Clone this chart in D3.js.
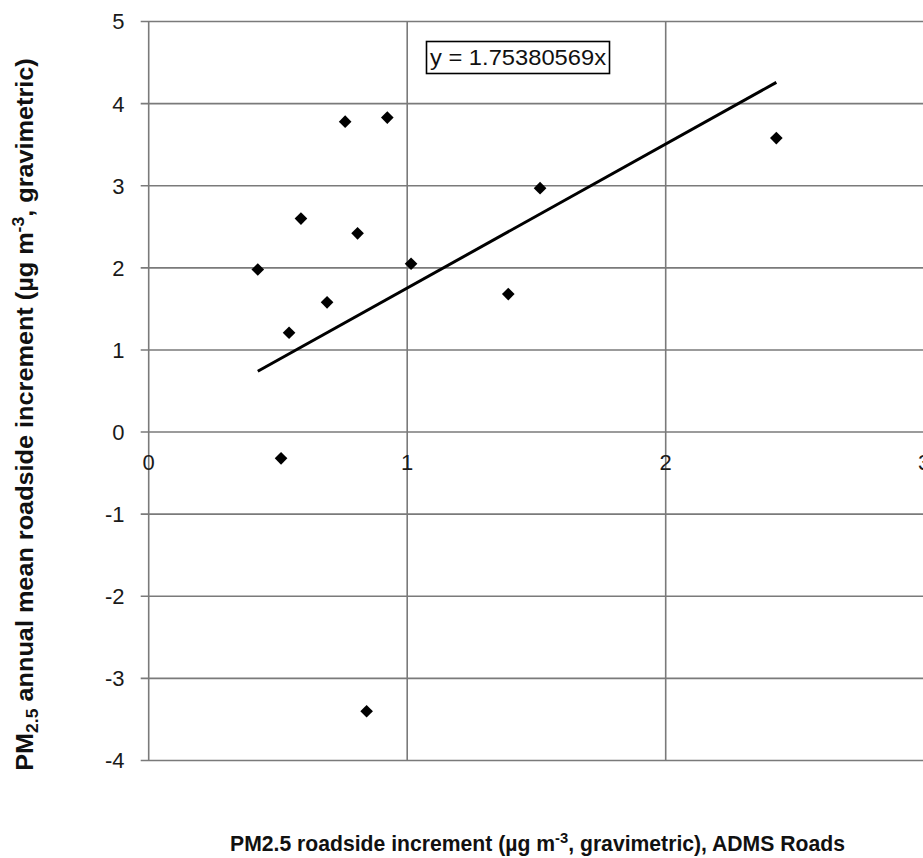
<!DOCTYPE html>
<html><head><meta charset="utf-8">
<script src="https://cdn.jsdelivr.net/npm/d3@7"></script>
<style>body{margin:0;background:#fff;} svg{display:block;}</style>
</head><body>
<svg id="c" width="923" height="858"></svg>
<script>
const xValues = [0.422, 0.543, 0.512, 0.589, 0.690, 0.760, 0.808, 0.843, 0.923, 1.015, 1.391, 1.514, 2.428];
const yValues = [1.98, 1.21, -0.32, 2.60, 1.58, 3.78, 2.42, -3.40, 3.83, 2.05, 1.68, 2.97, 3.58];
const slope = 1.75380569;
const xTicks = [0, 1, 2, 3];
const yTicks = [5, 4, 3, 2, 1, 0, -1, -2, -3, -4];
const eqLabel = "y = 1.75380569x";

(function(){
const svg = d3.select("#c");
const pLeft = 148.7, pTop = 21.5, pRight = 924.2, pBottom = 760.5;
const x = d3.scaleLinear().domain([0, 3]).range([pLeft, pRight]);
const y = d3.scaleLinear().domain([-4, 5]).range([pBottom, pTop]);
const grid = "#7a7a7a";
const font = "Liberation Sans, Arial, sans-serif";

svg.append("g").selectAll("line").data(yTicks).join("line")
  .attr("x1", pLeft - 8).attr("x2", 923)
  .attr("y1", d => y(d)).attr("y2", d => y(d))
  .attr("stroke", grid).attr("stroke-width", 1.6);
svg.append("g").selectAll("line").data(xTicks).join("line")
  .attr("x1", d => x(d)).attr("x2", d => x(d))
  .attr("y1", pTop).attr("y2", pBottom)
  .attr("stroke", grid).attr("stroke-width", 1.6);

svg.append("g").selectAll("text").data(yTicks).join("text")
  .attr("x", 124.5).attr("y", d => y(d)).attr("dy", "0.36em")
  .attr("text-anchor", "end").attr("font-family", font).attr("font-size", 22)
  .attr("fill", "#1a1a1a").text(d => d);
svg.append("g").selectAll("text").data(xTicks).join("text")
  .attr("x", d => x(d)).attr("y", y(0) + 30).attr("dy", "0.36em")
  .attr("text-anchor", "middle").attr("font-family", font).attr("font-size", 22)
  .attr("fill", "#1a1a1a").text(d => d);

const xmin = d3.min(xValues), xmax = d3.max(xValues);
svg.append("line")
  .attr("x1", x(xmin)).attr("y1", y(slope * xmin))
  .attr("x2", x(xmax)).attr("y2", y(slope * xmax))
  .attr("stroke", "#000").attr("stroke-width", 3);

const pts = xValues.map((v, i) => [v, yValues[i]]);
svg.append("g").selectAll("path").data(pts).join("path")
  .attr("d", d3.symbol().type(d3.symbolSquare).size(80))
  .attr("transform", d => `translate(${x(d[0])},${y(d[1])}) rotate(45)`)
  .attr("fill", "#000");

svg.append("rect").attr("x", 426.5).attr("y", 41.5).attr("width", 183).attr("height", 32)
  .attr("fill", "#fff").attr("stroke", "#000").attr("stroke-width", 1.6);
svg.append("text").attr("x", 518).attr("y", 57.5).attr("dy", "0.36em").attr("text-anchor", "middle")
  .attr("font-family", font).attr("font-size", 22).attr("fill", "#111")
  .attr("textLength", 176).attr("lengthAdjust", "spacingAndGlyphs").text(eqLabel);

function fit(sel, target) {
  const w = sel.node().getBBox().width;
  return target / w;
}

const yt = svg.append("text")
  .attr("text-anchor", "middle").attr("font-family", font).attr("font-size", 23)
  .attr("font-weight", "bold").attr("fill", "#111");
yt.append("tspan").text("PM");
yt.append("tspan").attr("font-size", 16).attr("dy", 5).text("2.5");
yt.append("tspan").attr("dy", -5).text(" annual mean  roadside increment (µg m");
yt.append("tspan").attr("font-size", 16).attr("dy", -9).text("-3");
yt.append("tspan").attr("dy", 9).text(",  gravimetric)");
const sy = fit(yt, 713);
yt.attr("transform", `translate(32.5,414.5) rotate(-90) scale(${sy},1)`);

const xt = svg.append("text")
  .attr("text-anchor", "middle").attr("font-family", font).attr("font-size", 21.5)
  .attr("font-weight", "bold").attr("fill", "#111");
xt.append("tspan").text("PM2.5 roadside increment (µg m");
xt.append("tspan").attr("font-size", 15).attr("dy", -8).text("-3");
xt.append("tspan").attr("dy", 8).text(", gravimetric), ADMS Roads");
const sx = fit(xt, 615);
xt.attr("transform", `translate(537.5,851) scale(${sx},1)`);
})();
</script>
</body></html>
